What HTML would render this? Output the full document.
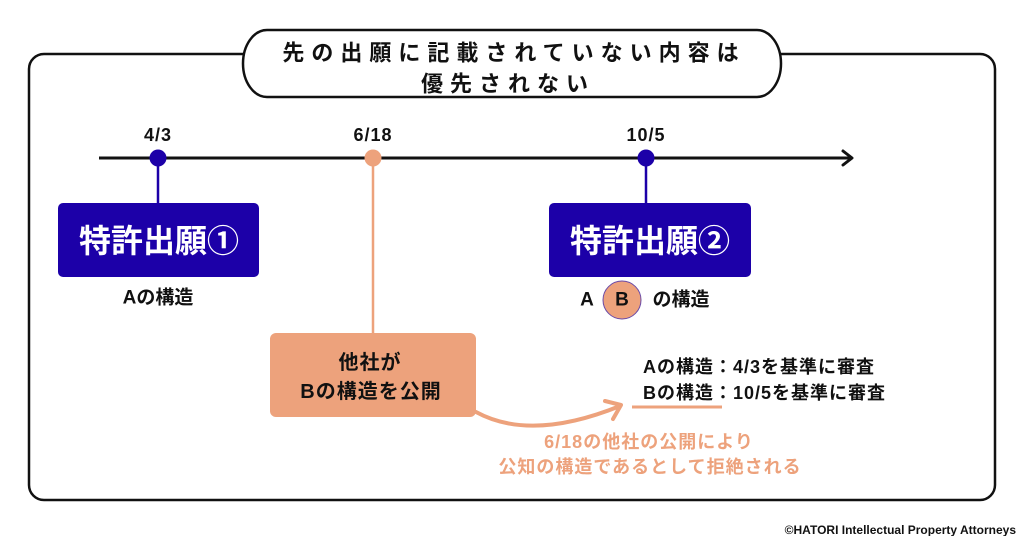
<!DOCTYPE html>
<html>
<head>
<meta charset="utf-8">
<style>
  html,body{margin:0;padding:0;background:#fff;}
  body{width:1024px;height:536px;overflow:hidden;position:relative;}
  svg{position:absolute;left:0;top:0;}
  text{font-family:"Liberation Sans","Noto Sans CJK JP",sans-serif;}
</style>
</head>
<body>
<svg width="1024" height="536" viewBox="0 0 1024 536" xmlns="http://www.w3.org/2000/svg">
  <!-- outer frame -->
  <rect x="29" y="54" width="966" height="446" rx="15" ry="15" fill="none" stroke="#111" stroke-width="2.5"/>
  <!-- title pill -->
  <rect x="243" y="30" width="538" height="67" rx="24" ry="33.5" fill="#fff" stroke="#111" stroke-width="2.5"/>
  <text x="514" y="53" text-anchor="middle" dominant-baseline="central" font-size="22" font-weight="bold" fill="#111" style="letter-spacing:7px">先の出願に記載されていない内容は</text>
  <text x="508" y="84" text-anchor="middle" dominant-baseline="central" font-size="22" font-weight="bold" fill="#111" style="letter-spacing:7px">優先されない</text>

  <!-- timeline -->
  <line x1="99" y1="158" x2="852" y2="158" stroke="#111" stroke-width="3"/>
  <polyline points="843,151 852,158 843,165" fill="none" stroke="#111" stroke-width="3" stroke-linecap="round" stroke-linejoin="round"/>

  <!-- date labels -->
  <text x="158" y="135" text-anchor="middle" dominant-baseline="central" font-size="18" font-weight="bold" fill="#111" style="letter-spacing:1px">4/3</text>
  <text x="373" y="135" text-anchor="middle" dominant-baseline="central" font-size="18" font-weight="bold" fill="#111" style="letter-spacing:1px">6/18</text>
  <text x="646" y="135" text-anchor="middle" dominant-baseline="central" font-size="18" font-weight="bold" fill="#111" style="letter-spacing:1px">10/5</text>

  <!-- stems -->
  <line x1="158" y1="158" x2="158" y2="204" stroke="#1c00a8" stroke-width="2.5"/>
  <line x1="646" y1="158" x2="646" y2="204" stroke="#1c00a8" stroke-width="2.5"/>
  <line x1="373" y1="158" x2="373" y2="334" stroke="#eda27c" stroke-width="2.5"/>

  <!-- dots -->
  <circle cx="158" cy="158" r="8.5" fill="#1c00a8"/>
  <circle cx="373" cy="158" r="8.5" fill="#eda27c"/>
  <circle cx="646" cy="158" r="8.5" fill="#1c00a8"/>

  <!-- box 1 -->
  <rect x="58" y="203" width="201" height="74" rx="5" ry="5" fill="#1c00a8"/>
  <text x="159" y="241" text-anchor="middle" dominant-baseline="central" font-size="32" font-weight="bold" fill="#fff">特許出願①</text>
  <text x="158" y="298" text-anchor="middle" dominant-baseline="central" font-size="19" font-weight="bold" fill="#111">Aの構造</text>

  <!-- box 2 -->
  <rect x="549" y="203" width="202" height="74" rx="5" ry="5" fill="#1c00a8"/>
  <text x="650" y="241" text-anchor="middle" dominant-baseline="central" font-size="32" font-weight="bold" fill="#fff">特許出願②</text>
  <text x="587" y="300" text-anchor="middle" dominant-baseline="central" font-size="19" font-weight="bold" fill="#111">A</text>
  <circle cx="622" cy="300" r="19" fill="#eda27c" stroke="#6a4aa8" stroke-width="1"/>
  <text x="622" y="300" text-anchor="middle" dominant-baseline="central" font-size="19" font-weight="bold" fill="#111">B</text>
  <text x="681" y="300" text-anchor="middle" dominant-baseline="central" font-size="19" font-weight="bold" fill="#111">の構造</text>

  <!-- orange box -->
  <rect x="270" y="333" width="206" height="84" rx="6" ry="6" fill="#eda27c"/>
  <text x="370" y="363" text-anchor="middle" dominant-baseline="central" font-size="20" font-weight="bold" fill="#111" style="letter-spacing:1px">他社が</text>
  <text x="371" y="392" text-anchor="middle" dominant-baseline="central" font-size="20" font-weight="bold" fill="#111" style="letter-spacing:1px">Bの構造を公開</text>

  <!-- curved arrow -->
  <path d="M476,412 Q531,442 620,406" fill="none" stroke="#eda27c" stroke-width="4" stroke-linecap="round"/>
  <polyline points="605,401 621,405 613,419" fill="none" stroke="#eda27c" stroke-width="4" stroke-linecap="round" stroke-linejoin="round"/>

  <!-- right text -->
  <text x="643" y="367" dominant-baseline="central" font-size="18" font-weight="bold" fill="#111" style="letter-spacing:1px">Aの構造：4/3を基準に審査</text>
  <text x="643" y="393" dominant-baseline="central" font-size="18" font-weight="bold" fill="#111" style="letter-spacing:1px">Bの構造：10/5を基準に審査</text>
  <line x1="632" y1="407" x2="722" y2="407" stroke="#eda27c" stroke-width="3"/>

  <!-- orange caption -->
  <text x="649" y="442" text-anchor="middle" dominant-baseline="central" font-size="18" font-weight="bold" fill="#eda27c" style="letter-spacing:1px">6/18の他社の公開により</text>
  <text x="650" y="467" text-anchor="middle" dominant-baseline="central" font-size="18" font-weight="bold" fill="#eda27c" style="letter-spacing:1px">公知の構造であるとして拒絶される</text>

  <!-- copyright -->
  <text x="1016" y="530" text-anchor="end" dominant-baseline="central" font-size="12" font-weight="bold" fill="#111">©HATORI Intellectual Property Attorneys</text>
</svg>
</body>
</html>
